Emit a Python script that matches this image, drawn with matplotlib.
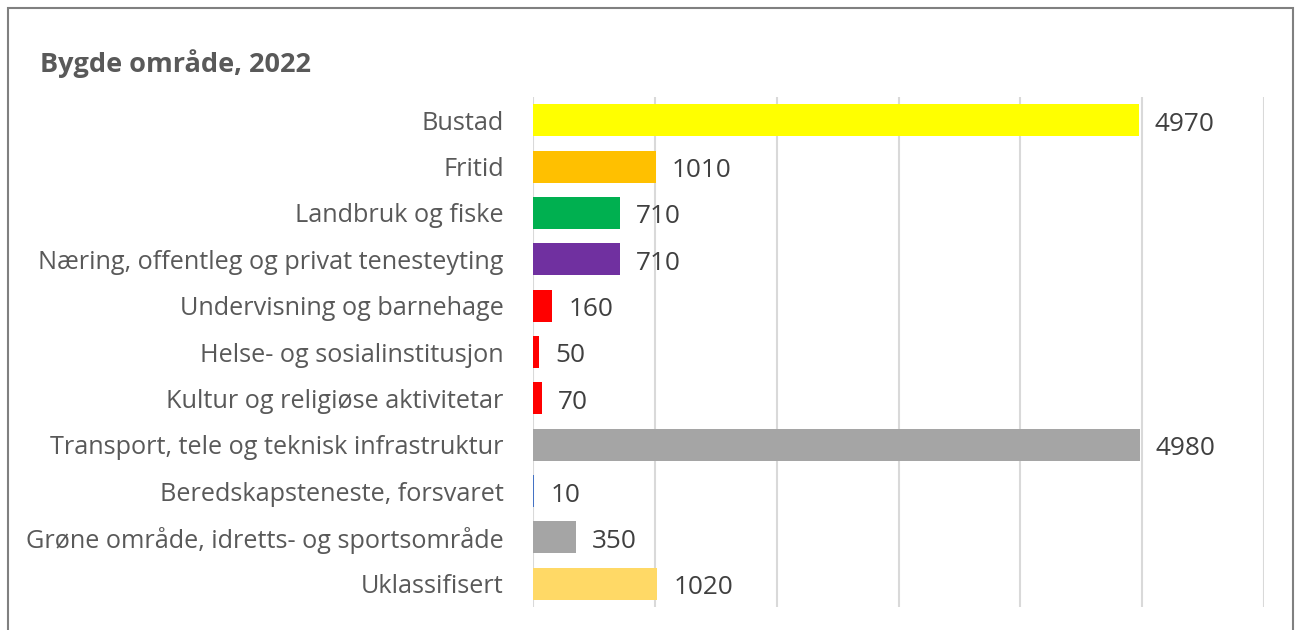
import matplotlib.pyplot as plt
from matplotlib.patches import Rectangle

categories = ["Bustad", "Fritid", "Landbruk og fiske",
              "Næring, offentleg og privat tenesteyting",
              "Undervisning og barnehage", "Helse- og sosialinstitusjon",
              "Kultur og religiøse aktivitetar",
              "Transport, tele og teknisk infrastruktur",
              "Beredskapsteneste, forsvaret",
              "Grøne område, idretts- og sportsområde", "Uklassifisert"]
values = [4970, 1010, 710, 710, 160, 50, 70, 4980, 10, 350, 1020]
colors = ["#FFFF00", "#FFC000", "#00B050", "#7030A0", "#FF0000", "#FF0000",
          "#FF0000", "#A5A5A5", "#4472C4", "#A5A5A5", "#FFD966"]

plt.rcParams['font.family'] = ['Open Sans', 'DejaVu Sans']

fig = plt.figure(figsize=(12.97, 6.30), dpi=100)
ax = fig.add_axes([533 / 1297, 1 - 607 / 630, (1264 - 533) / 1297, 510 / 630])

ypos = list(range(len(categories)))
ax.barh(ypos, values, height=0.69, color=colors, zorder=2)
ax.set_ylim(len(categories) - 0.5, -0.5)
ax.set_xlim(0, 6000)
ax.set_xticks(range(0, 6001, 1000))
ax.set_xticklabels([])
ax.tick_params(axis='x', length=0)
ax.grid(axis='x', color='#D9D9D9', linewidth=1.5, zorder=0)
ax.set_yticks(ypos)
ax.set_yticklabels(categories, fontsize=18.2, color='#595959')
ax.tick_params(axis='y', length=0, pad=21)
for s in ax.spines.values():
    s.set_visible(False)

for y, v in zip(ypos, values):
    ax.annotate(str(v), (v, y), xytext=(16, -4), textcoords='offset pixels',
                ha='left', va='center', fontsize=18.8, color='#404040')

fig.text(40 / 1297, 1 - 64 / 630, "Bygde område, 2022", fontsize=19.5,
         fontweight='bold', color='#595959', ha='left', va='center')

fig.patches.append(Rectangle((8 / 1297, -0.1), (1293 - 8) / 1297, 1.1 - 8 / 630,
                             transform=fig.transFigure, fill=False,
                             edgecolor='#808080', linewidth=1.5))

fig.savefig("out.png", dpi=100)
